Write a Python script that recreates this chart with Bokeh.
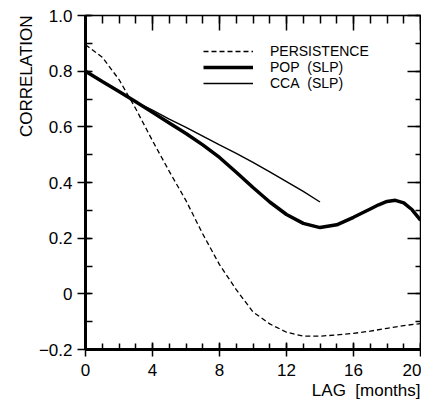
from bokeh.plotting import figure
from bokeh.models import (Range1d, FixedTicker, LinearAxis, Title)
from bokeh.embed import file_html
from bokeh.resources import INLINE

# ---- data ----
lag_persist = [0, 1, 2, 3, 4, 5, 6, 7, 8, 9, 10, 11, 12, 13, 14, 15, 16, 17, 18, 19, 20]
persistence = [0.895, 0.85, 0.77, 0.665, 0.55, 0.44, 0.335, 0.215, 0.105, 0.015, -0.065,
               -0.108, -0.138, -0.152, -0.152, -0.148, -0.142, -0.134, -0.124, -0.114, -0.107]

lag_pop = [0, 1, 2, 3, 4, 5, 6, 7, 8, 9, 10, 11, 12, 13, 14, 15, 16, 17, 17.5, 18, 18.5,
           19, 19.5, 20]
pop_slp = [0.80, 0.763, 0.727, 0.69, 0.652, 0.614, 0.576, 0.535, 0.49, 0.437, 0.382, 0.33,
           0.285, 0.253, 0.238, 0.248, 0.275, 0.305, 0.32, 0.332, 0.336, 0.327, 0.302, 0.265]

lag_cca = [0, 1, 2, 3, 4, 5, 6, 7, 8, 9, 10, 11, 12, 13, 14]
cca_slp = [0.80, 0.763, 0.727, 0.69, 0.66, 0.628, 0.598, 0.567, 0.535, 0.505, 0.472,
           0.438, 0.403, 0.368, 0.33]

x_major = [0, 4, 8, 12, 16, 20]
x_minor = list(range(0, 21))
x_labels = ["0", "4", "8", "12", "16", "20"]
y_major = [-0.2, 0.0, 0.2, 0.4, 0.6, 0.8, 1.0]
y_minor = [-0.2, -0.1, 0.0, 0.1, 0.2, 0.3, 0.4, 0.5, 0.6, 0.7, 0.8, 0.9, 1.0]
y_labels = ["\u22120.2", "0", "0.2", "0.4", "0.6", "0.8", "1.0"]
series_names = ["PERSISTENCE", "POP\u00a0\u00a0(SLP)", "CCA\u00a0\u00a0(SLP)"]

FONT = "Liberation Sans"

p = figure(frame_width=335, frame_height=334, output_backend="svg", toolbar_location=None,
           x_range=Range1d(0, 20), y_range=Range1d(-0.2, 1.0),
           x_axis_location=None, y_axis_location=None,
           min_border_left=85, min_border_top=15, min_border_right=1, min_border_bottom=44)
p.grid.visible = False
p.outline_line_color = None
p.background_fill_color = "white"

xt = FixedTicker(ticks=x_major, minor_ticks=x_minor)
yt = FixedTicker(ticks=y_major, minor_ticks=y_minor)

# bottom axis
bx = LinearAxis(ticker=xt, axis_line_width=3, major_tick_in=7, major_tick_out=7,
                minor_tick_in=6, minor_tick_out=0, major_tick_line_width=1.5,
                minor_tick_line_width=1.5, major_label_standoff=7,
                major_label_text_font=FONT, major_label_text_font_size="17px",
                major_label_text_color="black",
                major_label_overrides={t: l for t, l in zip(x_major, x_labels)})
p.add_layout(bx, "below")

# left axis
ly = LinearAxis(ticker=yt, axis_line_width=3, major_tick_in=5, major_tick_out=8,
                minor_tick_in=7, minor_tick_out=0, major_tick_line_width=1.5,
                minor_tick_line_width=1.5, major_label_standoff=5,
                major_label_text_font=FONT, major_label_text_font_size="17px",
                major_label_text_color="black",
                major_label_overrides={t: l for t, l in zip(y_major, y_labels)})
p.add_layout(ly, "left")

# top axis (ticks inward, no labels)
tx = LinearAxis(ticker=xt, axis_line_width=1.5, major_tick_in=15, major_tick_out=0,
                minor_tick_in=8, minor_tick_out=0, major_tick_line_width=1.5,
                minor_tick_line_width=1.5, major_label_standoff=0,
                major_label_overrides={t: "" for t in x_major})
p.add_layout(tx, "above")

# right axis (ticks inward, no labels)
ry = LinearAxis(ticker=yt, axis_line_width=1.5, major_tick_in=13, major_tick_out=0,
                minor_tick_in=5, minor_tick_out=0, major_tick_line_width=1.5,
                minor_tick_line_width=1.5, major_label_standoff=0,
                major_label_overrides={t: "" for t in y_major})
p.add_layout(ry, "right")

# axis titles
p.add_layout(Title(text="LAG\u00a0\u00a0[months]", align="right", text_font=FONT,
                   text_font_size="17px", text_font_style="normal", text_color="black",
                   standoff=0), "below")
p.add_layout(Title(text="CORRELATION", align="right", text_font=FONT,
                   text_font_size="17px", text_font_style="normal", text_color="black",
                   standoff=0), "left")

p.line(lag_persist, persistence, line_color="black", line_width=1.3, line_dash="5 3",
       legend_label=series_names[0])
p.line(lag_pop, pop_slp, line_color="black", line_width=3.5, legend_label=series_names[1])
p.line(lag_cca, cca_slp, line_color="black", line_width=1.4, legend_label=series_names[2])

lg = p.legend[0]
lg.location = (118, 258)
lg.label_text_font = FONT
lg.label_text_font_size = "14px"
lg.label_text_color = "black"
lg.glyph_width = 50
lg.glyph_height = 14
lg.label_height = 14
lg.label_standoff = 17
lg.spacing = 0
lg.padding = 0
lg.margin = 0
lg.border_line_color = None
lg.background_fill_alpha = 0

open("out.html", "w").write(file_html(p, INLINE))
